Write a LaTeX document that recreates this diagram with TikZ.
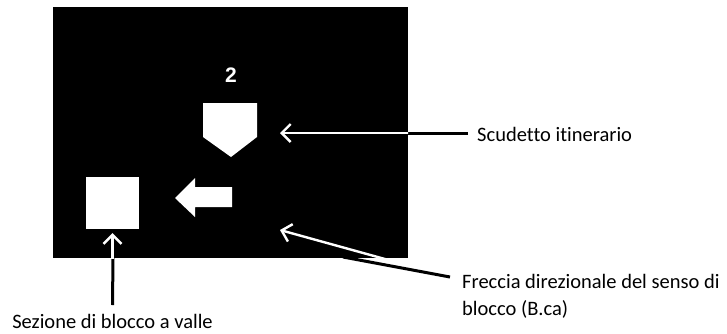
\documentclass[tikz,border=0pt]{standalone}
\usepackage{fontspec}
\setmainfont{Carlito}[Ligatures={NoCommon}]
\newfontfamily\numfont{Liberation Sans}
\usetikzlibrary{arrows.meta}
\begin{document}
\begin{tikzpicture}[x=1pt,y=-1pt,
  lbl/.style={font=\fontsize{20.5}{25}\selectfont, inner sep=0pt},
  outline/.style={line width=3pt, black},
  inarrow/.style={line width=2.4pt, white, -{Straight Barb[length=9pt,width=18pt,line width=2.4pt]}},
  shapefill/.style={fill=white, draw=none}]
\useasboundingbox (0,0) rectangle (727,333);
% panel
\fill[black] (53,7) rectangle (408,258);
\node[font=\numfont\bfseries\fontsize{21}{21}\selectfont, text=white] (num) at (231,75) {2};
% shield
\fill[white] (203,103) -- (257,103) -- (257,137) -- (231,157) -- (203,137) -- cycle;
\coordinate (shieldtip) at (280,133);
% square
\node[shapefill, minimum width=53pt, minimum height=52pt, inner sep=0pt] (sq) at (112.5,203) {};
% block arrow
\fill[white] (175,198) -- (195,178) -- (195,187) -- (232,187) -- (232,207) -- (195,207) -- (195,217) -- cycle;
\coordinate (blocktip) at (280,230);
% labels
\node[lbl, anchor=base west] (scud) at (477,141) {Scudetto itinerario};
\node[lbl, anchor=base] (sez) at (112.5,328) {Sezione di blocco a valle};
\node[lbl, anchor=base west] (frec1) at (462,288) {Freccia direzionale del senso di};
\node[lbl, anchor=base west] (frec2) at (462,315) {blocco (B.ca)};
\coordinate (scudend) at ([xshift=-9pt,yshift=8pt]scud.base west);
\coordinate (sezend) at ([yshift=23pt]sez.base);
\coordinate (frecend) at ([xshift=-12pt,yshift=11pt]frec1.base west);
% black outside parts
\draw[outline] (scudend) -- (408,133);
\draw[outline] (sezend) -- (113,258);
\draw[outline] (frecend) -- (343,257);
% white inside parts
\begin{scope}
\clip (53,7) rectangle (408,258);
\draw[inarrow] (scudend) -- (shieldtip);
\draw[inarrow, shorten >=4pt] (sezend) -- (sq.south);
\draw[inarrow] (frecend) -- (blocktip);
\end{scope}
\end{tikzpicture}
\end{document}
